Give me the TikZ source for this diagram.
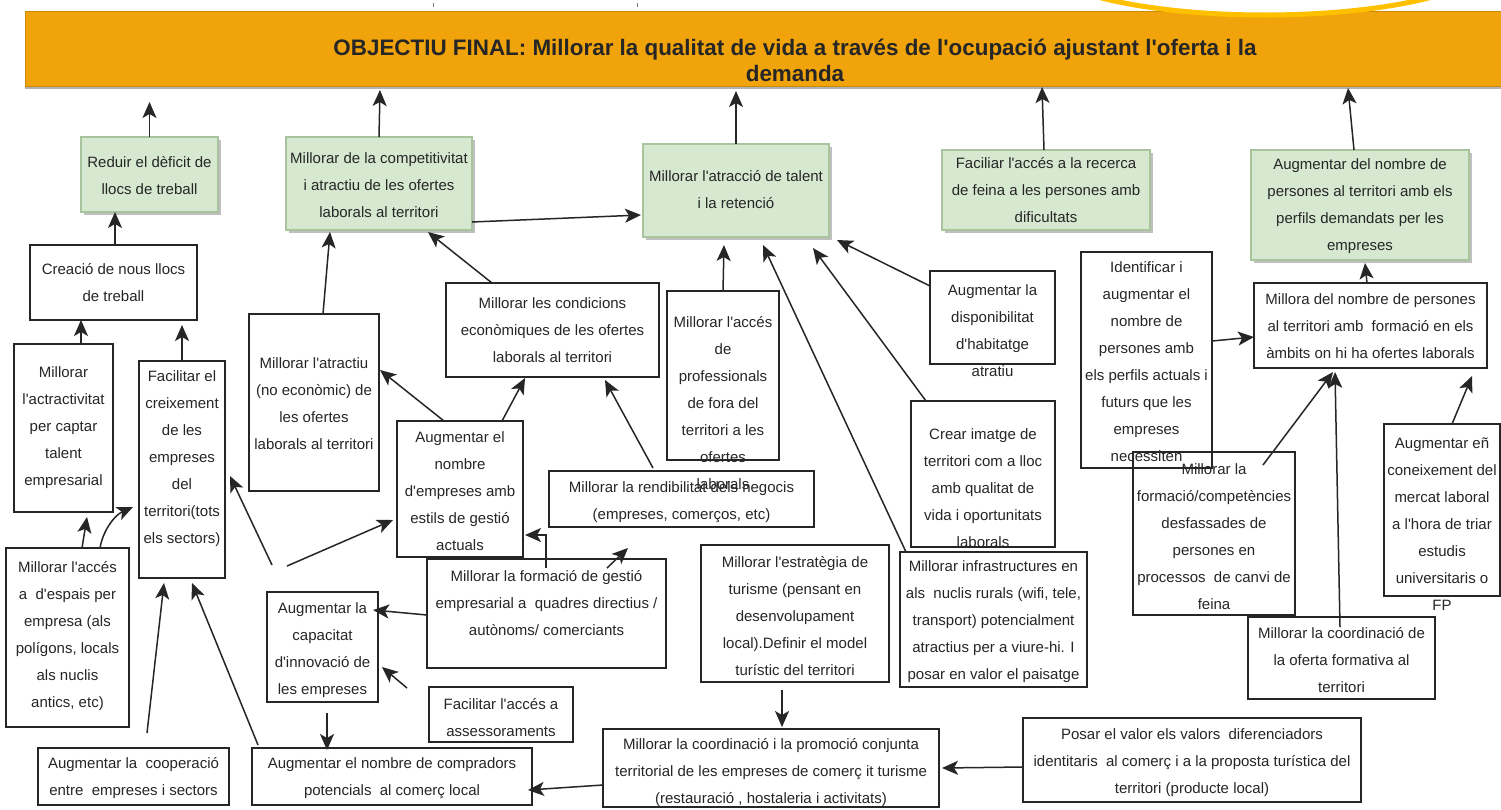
\documentclass[tikz,border=0pt]{standalone}
\usepackage{fontspec}
\setmainfont{Liberation Sans}[Ligatures=TeXOff]
\usetikzlibrary{arrows.meta,fit,shadows}
\definecolor{orng}{HTML}{F0A30A}
\definecolor{orngdk}{HTML}{C98A08}
\definecolor{gfill}{HTML}{D6E8D0}
\definecolor{gline}{HTML}{A8C49C}
\definecolor{ink}{HTML}{262626}
\definecolor{gold}{HTML}{FFC000}
\tikzset{
  wbox/.style={draw=ink, line width=1.6pt, inner sep=0pt, outer sep=0pt},
  gbox/.style={draw=gline, fill=gfill, line width=1.3pt, inner sep=0pt, outer sep=0pt,
    drop shadow={shadow xshift=3pt, shadow yshift=-3pt, fill=black, opacity=0.25}},
  txt/.style={font=\fontsize{15}{27}\selectfont, align=center, inner sep=0pt, text=ink},
  arr/.style={draw=ink, line width=1.5pt, -{Stealth[length=16pt,width=14pt,inset=4pt]}},
}
\begin{document}
\begin{tikzpicture}[x=1pt,y=-1pt]
\useasboundingbox (0,0) rectangle (1501,809);
\clip (0,0) rectangle (1501,809);
\fill[white] (0,0) rectangle (1501,809);

% title bar
\node[fit={(25,11)(1565,86)}, fill=orng, draw=orngdk, line width=0.8pt, inner sep=0pt, outer sep=0pt,
  drop shadow={shadow xshift=0pt, shadow yshift=-3pt, fill=black, opacity=0.3}] (title) {};
\node[font=\bfseries\fontsize{22.4}{26}\selectfont, align=center, inner sep=0pt, text=ink] (titletext) at (795,60)
  {OBJECTIU FINAL: Millorar la qualitat de vida a través de l'ocupació ajustant l'oferta i la\\demanda};
\draw[gold, line width=5pt, fill=white] (1265,-40) ellipse [x radius=226, y radius=55];
\draw[ink!60, line width=1pt] (433,3) -- (433,7);
\draw[ink!60, line width=1pt] (637,3) -- (637,7);

% green boxes
\node[gbox, fit={(81,137)(218,212)}] (g1) {};
\node[gbox, fit={(286,137)(472,230)}] (g2) {};
\node[gbox, fit={(643,144)(829,237)}] (g3) {};
\node[gbox, fit={(942,150)(1150,230)}] (g4) {};
\node[gbox, fit={(1251,150)(1469,260)}] (g5) {};

% white boxes
\node[wbox, fit={(30,245)(197,320)}] (w1) {};
\node[wbox, fit={(14,344)(113,512)}] (w2) {};
\node[wbox, fit={(139,361)(225,578)}] (w3) {};
\node[wbox, fit={(249,314)(379,491)}] (w4) {};
\node[wbox, fit={(446,283)(659,377)}] (w5) {};
\node[wbox, fit={(397,421)(523,557)}] (w6) {};
\node[wbox, fit={(667,291)(779,460)}] (w7) {};
\node[wbox, fit={(549,471)(814,527)}] (w8) {};
\node[wbox, fit={(427,559)(666,668)}] (w9) {};
\node[wbox, fit={(267,592)(378,702)}] (w11) {};
\node[wbox, fit={(429,687)(573,742)}] (w12) {};
\node[wbox, fit={(38,748)(229,805)}] (w13) {};
\node[wbox, fit={(252,748)(532,805)}] (w14) {};
\node[wbox, fit={(6,548)(129,727)}] (w15) {};
\node[wbox, fit={(701,545)(889,682)}] (w16) {};
\node[wbox, fit={(603,729)(939,807)}] (w17) {};
\node[wbox, fit={(1023,718)(1361,802)}] (w18) {};
\node[wbox, fit={(900,552)(1087,687)}] (w19) {};
\node[wbox, fit={(911,401)(1055,547)}] (w20) {};
\node[wbox, fit={(930,271)(1055,364)}] (w21) {};
\node[wbox, fit={(1081,252)(1212,468)}] (w22) {};
\node[wbox, fit={(1254,283)(1487,368)}] (w23) {};
\node[wbox, fit={(1133,452)(1295,615)}] (w24) {};
\node[wbox, fit={(1248,617)(1435,699)}] (w25) {};
\node[wbox, fit={(1384,424)(1500,596)}] (w26) {};

% texts
\node[txt] (g1t) at (149.5,175.5) {Reduir el dèficit de\\llocs de treball};
\node[txt] (g2t) at (379,185) {Millorar de la competitivitat\\i atractiu de les ofertes\\laborals al territori};
\node[txt] (g3t) at (736,190) {Millorar l'atracció de talent\\i la retenció};
\node[txt] (g4t) at (1046,190) {Faciliar l'accés a la recerca\\de feina a les persones amb\\dificultats};
\node[txt] (g5t) at (1360,206) {Augmentar del nombre de\\persones al territori amb els\\perfils demandats per les\\empreses};
\node[txt] (w1t) at (113.5,282.5) {Creació de nous llocs\\de treball};
\node[txt] (w2t) at (63.5,428) {Millorar\\l'actractivitat\\per captar\\talent\\empresarial};
\node[txt] (w3t) at (182,459) {Facilitar el\\creixement\\de les\\empreses\\del\\territori(tots\\els sectors)};
\node[txt] (w4t) at (314,403.5) {Millorar l'atractiu\\(no econòmic) de\\les ofertes\\laborals al territori};
\node[txt] (w5t) at (552.5,330.5) {Millorar les condicions\\econòmiques de les ofertes\\laborals al territori};
\node[txt] (w6t) at (460,491) {Augmentar el\\nombre\\d'empreses amb\\estils de gestió\\actuals};
\node[txt] (w8t) at (681.5,502) {Millorar la rendibilitat dels negocis\\(empreses, comerços, etc)};
\node[txt] (w7t) at (723,403) {Millorar l'accés\\de\\professionals\\de fora del\\territori a les\\ofertes\\laborals};
\node[txt] (w9t) at (546.5,603) {Millorar la formació de gestió\\empresarial a\ \ quadres directius /\\autònoms/ comerciants};
\node[txt] (w11t) at (322.5,650) {Augmentar la\\capacitat\\d'innovació de\\les empreses};
\node[txt] (w12t) at (501,718) {Facilitar l'accés a\\assessoraments};
\node[txt] (w13t) at (133.5,778.5) {Augmentar la\ \ cooperació\\entre\ \ empreses i sectors};
\node[txt] (w14t) at (392,778.5) {Augmentar el nombre de compradors\\potencials\ \ al comerç local};
\node[txt] (w15t) at (67.5,636.5) {Millorar l'accés\\a\ \ d'espais per\\empresa (als\\polígons, locals\\als nuclis\\antics, etc)};
\node[txt] (w16t) at (795,616) {Millorar l'estratègia de\\turisme (pensant en\\desenvolupament\\local).Definir el model\\turístic del territori};
\node[txt] (w17t) at (771,772.5) {Millorar la coordinació i la promoció conjunta\\territorial de les empreses de comerç it turisme\\(restauració , hostaleria i activitats)};
\node[txt] (w18t) at (1192,762.5) {Posar el valor els valors\ \ diferenciadors\\identitaris\ \ al comerç i a la proposta turística del\\territori (producte local)};
\node[txt] (w19t) at (993.5,621.5) {Millorar infrastructures en\\als\ \ nuclis rurals (wifi, tele,\\transport) potencialment\\atractius per a viure-hi. I\\posar en valor el paisatge};
\node[txt] (w20t) at (983,488) {Crear imatge de\\territori com a lloc\\amb qualitat de\\vida i oportunitats\\laborals};
\node[txt] (w21t) at (992.5,330.5) {Augmentar la\\disponibilitat\\d'habitatge\\atratiu};
\node[txt] (w22t) at (1146.5,361.5) {Identificar i\\augmentar el\\nombre de\\persones amb\\els perfils actuals i\\futurs que les\\empreses\\necessiten};
\node[txt] (w23t) at (1370.5,326.5) {Millora del nombre de persones\\al territori amb\ \ formació en els\\àmbits on hi ha ofertes laborals};
\node[txt] (w24t) at (1214,536.5) {Millorar la\\formació/competències\\desfassades de\\persones en\\processos\ \ de canvi de\\feina};
\node[txt] (w25t) at (1341.5,660) {Millorar la coordinació de\\la oferta formativa al\\territori};
\node[txt] (w26t) at (1442,524.5) {Augmentar eñ\\coneixement del\\mercat laboral\\a l'hora de triar\\estudis\\universitaris o\\FP};

% arrows to title
\draw[arr] (g1.north) -- ([xshift=-645.5pt,yshift=-16pt]title.south);
\draw[arr] (g2.north) -- ([xshift=-415pt,yshift=-4pt]title.south);
\draw[arr] (g3.north) -- ([xshift=-59pt,yshift=-5pt]title.south);
\draw[arr] ([xshift=-2pt]g4.north) -- ([xshift=247pt,yshift=-1pt]title.south);
\draw[arr] ([xshift=-6pt]g5.north) -- ([xshift=553pt,yshift=-2pt]title.south);

% left column
\draw[arr] ([xshift=1.5pt]w1.north) -- ([xshift=-34.5pt]g1.south);
\draw[arr] ([xshift=17.5pt]w2.north) -- ([xshift=-32.5pt]w1.south);
\draw[arr] (w3.north) -- ([xshift=68.5pt,yshift=-5pt]w1.south);
\draw[arr] ([xshift=14.5pt]w15.north) -- ([xshift=23.5pt,yshift=-5pt]w2.south);
\draw[arr] ([xshift=32.5pt]w15.north) .. controls (103,530) and (115,515) .. ([xshift=-6pt,yshift=-37.5pt]w3.west);
\draw[arr] ([xshift=13.5pt,yshift=15pt]w13.north) -- ([xshift=-18pt,yshift=-5pt]w3.south);
\draw[arr] ([xshift=6pt,yshift=3pt]w14.north west) -- ([xshift=10pt,yshift=-5pt]w3.south);
\coordinate (f1) at (272,565);
\coordinate (f2) at (287,566);
\draw[arr] (f1) -- ([xshift=5pt,yshift=-6.5pt]w3.east);
\draw[arr] (f2) -- ([xshift=-4pt,yshift=-31pt]w6.west);

% middle
\draw[arr] ([xshift=9pt]w4.north) -- ([xshift=-49pt,yshift=-2pt]g2.south);
\draw[arr] ([xshift=-60.5pt]w5.north) -- ([xshift=49pt,yshift=-2pt]g2.south);
\draw[arr] ([yshift=-38.5pt]g2.east) -- ([xshift=-2pt,yshift=-24.5pt]g3.west);
\draw[arr] ([xshift=-16pt]w6.north) -- ([xshift=1pt,yshift=32.5pt]w4.east);
\draw[arr] ([xshift=42pt]w6.north) -- ([xshift=-27.5pt,yshift=-1pt]w5.south);
\draw[arr] ([xshift=-28.5pt,yshift=3pt]w8.north) -- ([xshift=52.5pt,yshift=-3pt]w5.south);
\draw[arr] ([xshift=-0.5pt,yshift=-9pt]w9.north) |- ([xshift=2pt,yshift=-46pt]w6.east);
\draw[arr] ([xshift=60.5pt,yshift=-9pt]w9.north) -- ([xshift=-53.5pt,yshift=-21pt]w8.south);
\draw[arr] ([yshift=-1.5pt]w9.west) -- ([xshift=-5pt,yshift=37pt]w11.east);
\draw[arr] ([xshift=-22pt,yshift=-1pt]w12.north west) -- ([xshift=4pt,yshift=-20pt]w11.east);
\draw[arr] ([xshift=4.5pt,yshift=-11pt]w11.south) -- ([xshift=-65pt,yshift=-2pt]w14.north);

% into g3
\draw[arr] (w7.north) -- ([xshift=-12pt,yshift=-8pt]g3.south);
\draw[arr] ([xshift=6pt]w19.north west) -- ([xshift=27pt,yshift=-8pt]g3.south);
\draw[arr] ([xshift=15pt]w20.north west) -- ([xshift=77pt,yshift=-11pt]g3.south);
\draw[arr] ([yshift=-15pt]w21.north west) -- ([xshift=8pt,yshift=-3pt]g3.south east);

% bottom
\draw[arr] ([xshift=-13pt,yshift=-8pt]w16.south) -- ([xshift=11pt,yshift=2pt]w17.north);
\draw[arr] ([yshift=-17pt]w17.west) -- ([xshift=-4pt,yshift=-13.5pt]w14.east);
\draw[arr] ([yshift=-7pt]w18.west) -- ([xshift=3pt]w17.east);

% right
\draw[arr] ([yshift=19pt]w22.east) -- ([yshift=-11.5pt]w23.west);
\draw[arr] ([xshift=-3.5pt]w23.north) -- ([xshift=5pt,yshift=-3pt]g5.south);
\draw[arr] ([xshift=49pt,yshift=-13pt]w24.north) -- ([xshift=-37.5pt,yshift=-4pt]w23.south);
\draw[arr] ([xshift=-1.5pt,yshift=-10pt]w25.north) -- ([xshift=-35.5pt,yshift=-4pt]w23.south);
\draw[arr] ([xshift=10pt]w26.north) -- ([xshift=101.5pt,yshift=-8pt]w23.south);
\end{tikzpicture}
\end{document}
